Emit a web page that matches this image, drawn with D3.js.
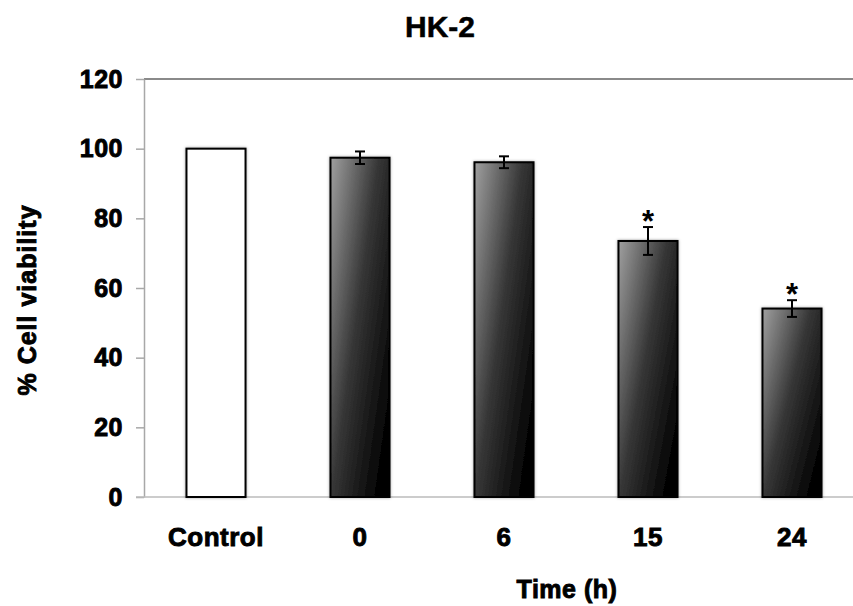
<!DOCTYPE html>
<html>
<head>
<meta charset="utf-8">
<script src="https://cdn.jsdelivr.net/npm/d3@7"></script>
<style>
  body { margin: 0; background: #fff; }
  svg { font-family: "Liberation Sans", Arial, sans-serif; font-weight: bold; }
</style>
</head>
<body>
<div id="chart"></div>
<script>
// data
const categories = ["Control", "0", "6", "15", "24"];
const viability = [100, 97.4, 96.1, 73.5, 54.1];
const errors = [0, 1.8, 1.7, 4.0, 2.4];
const significant = [false, false, false, true, true];
const yTicks = [0, 20, 40, 60, 80, 100, 120];

const rows = categories.map((c, i) => ({cat: c, v: viability[i], e: errors[i], sig: significant[i]}));

const width = 853, height = 606;
const margin = {top: 79, left: 144, bottom: 109};
const plotW = 720, plotH = height - margin.top - margin.bottom;

const svg = d3.select("#chart").append("svg")
    .attr("width", width)
    .attr("height", height);

const defs = svg.append("defs");
const grad = defs.append("linearGradient")
    .attr("id", "barGrad")
    .attr("x1", 0).attr("y1", 0).attr("x2", 1).attr("y2", 0.8);
grad.append("stop").attr("offset", "0%").attr("stop-color", "#a0a0a0");
grad.append("stop").attr("offset", "50%").attr("stop-color", "#363636");
grad.append("stop").attr("offset", "100%").attr("stop-color", "#000");

const shadow = defs.append("filter").attr("id", "shadow")
    .attr("x", "-20%").attr("y", "-5%").attr("width", "140%").attr("height", "110%");
shadow.append("feDropShadow")
    .attr("dx", 0).attr("dy", 0).attr("stdDeviation", 1.5)
    .attr("flood-color", "#000").attr("flood-opacity", 0.35);

const x = d3.scaleBand()
    .domain(categories)
    .range([0, plotW])
    .paddingInner(0.59)
    .paddingOuter(0.295);
const y = d3.scaleLinear().domain([0, 120]).range([plotH, 0]);
const cx = d => x(d.cat) + x.bandwidth() / 2;

const g = svg.append("g")
    .attr("transform", "translate(" + margin.left + "," + margin.top + ")");

// top border line
g.append("line")
    .attr("x1", 0).attr("x2", plotW)
    .attr("y1", y(120)).attr("y2", y(120))
    .attr("stroke", "#8a8a8a").attr("stroke-width", 2);

// y axis
const yAxis = g.append("g")
    .call(d3.axisLeft(y).tickValues(yTicks).tickSize(8).tickSizeOuter(0).tickPadding(13));
yAxis.select(".domain").attr("stroke", "#a8a8a8").attr("stroke-width", 1.5);
yAxis.selectAll(".tick line").attr("stroke", "#a8a8a8").attr("stroke-width", 1.5);
yAxis.selectAll(".tick text")
    .attr("fill", "#000")
    .attr("stroke", "#000").attr("stroke-width", 0.9)
    .style("font-size", "25px")
    .style("letter-spacing", "0.5px");

// x axis
const xAxis = g.append("g")
    .attr("transform", "translate(0," + plotH + ")")
    .call(d3.axisBottom(x).tickSize(0).tickPadding(31));
xAxis.select(".domain").attr("stroke", "#bbbbbb").attr("stroke-width", 1.5)
    .attr("d", "M-8,0H" + plotW);
xAxis.selectAll(".tick text")
    .attr("fill", "#000")
    .attr("stroke", "#000").attr("stroke-width", 0.9)
    .style("font-size", "26px")
    .style("letter-spacing", "0.5px");

// bars
g.selectAll(".bar")
    .data(rows)
    .enter().append("rect")
    .attr("class", "bar")
    .attr("x", d => x(d.cat))
    .attr("y", d => y(d.v))
    .attr("width", x.bandwidth())
    .attr("height", d => plotH - y(d.v))
    .attr("fill", (d, i) => i === 0 ? "#fff" : "url(#barGrad)")
    .attr("stroke", "#000")
    .attr("stroke-width", 2)
    .attr("filter", "url(#shadow)");

// error bars
const eb = g.selectAll(".err")
    .data(rows.filter(d => d.e > 0))
    .enter().append("g")
    .attr("class", "err");
eb.append("line")
    .attr("x1", cx).attr("x2", cx)
    .attr("y1", d => y(d.v + d.e))
    .attr("y2", d => y(d.v - d.e))
    .attr("stroke", "#000").attr("stroke-width", 2);
[1, -1].forEach(s => {
    eb.append("line")
        .attr("x1", d => cx(d) - 5)
        .attr("x2", d => cx(d) + 5)
        .attr("y1", d => y(d.v + s * d.e))
        .attr("y2", d => y(d.v + s * d.e))
        .attr("stroke", "#000").attr("stroke-width", 2);
});

// significance stars
g.selectAll(".star")
    .data(rows.filter(d => d.sig))
    .enter().append("text")
    .attr("class", "star")
    .attr("x", cx)
    .attr("y", d => y(d.v + d.e) + 5)
    .attr("text-anchor", "middle")
    .style("font-size", "31px")
    .text("*");

// titles
svg.append("text")
    .attr("x", 440).attr("y", 37)
    .attr("text-anchor", "middle")
    .attr("stroke", "#000").attr("stroke-width", 0.5)
    .style("font-size", "30px")
    .text("HK-2");

svg.append("text")
    .attr("x", 567).attr("y", 598)
    .attr("text-anchor", "middle")
    .attr("stroke", "#000").attr("stroke-width", 0.9)
    .style("font-size", "25px")
    .style("letter-spacing", "0.5px")
    .text("Time (h)");

svg.append("text")
    .attr("transform", "translate(36,300) rotate(-90)")
    .attr("text-anchor", "middle")
    .attr("stroke", "#000").attr("stroke-width", 0.9)
    .style("font-size", "25px")
    .style("letter-spacing", "1px")
    .text("% Cell viability");
</script>
</body>
</html>
